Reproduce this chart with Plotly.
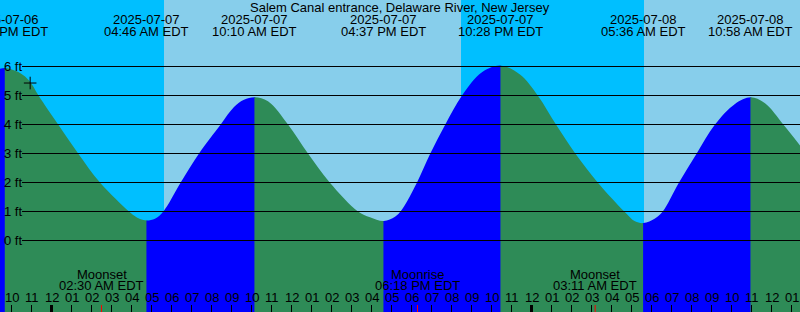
import plotly.graph_objects as go
from datetime import datetime, timedelta

# ---------------- data ----------------
title = "Salem Canal entrance, Delaware River, New Jersey"

# high / low tide extremes (time, feet)
ext_times = ["2025-07-06 21:41", "2025-07-07 04:46", "2025-07-07 10:10",
             "2025-07-07 16:37", "2025-07-07 22:28", "2025-07-08 05:36",
             "2025-07-08 10:58"]
ext_levels = [5.95, 0.69, 4.94, 0.67, 6.03, 0.60, 4.94]

# tide level
curve_times = ["2025-07-06 21:25:30", "2025-07-06 22:25:30", "2025-07-06 22:54",
               "2025-07-06 23:21", "2025-07-07 00:20", "2025-07-07 01:20",
               "2025-07-07 02:25:30", "2025-07-07 03:52:30", "2025-07-07 04:07:30",
               "2025-07-07 04:25:30",
               "2025-07-07 05:10:30", "2025-07-07 05:35:24", "2025-07-07 06:27:36",
               "2025-07-07 07:22:30", "2025-07-07 08:27:36", "2025-07-07 09:07:30",
               "2025-07-07 09:37:30",
               "2025-07-07 10:49:30", "2025-07-07 11:49:30", "2025-07-07 12:49:30",
               "2025-07-07 13:54:36", "2025-07-07 15:19:30", "2025-07-07 15:55:30",
               "2025-07-07 17:10:30", "2025-07-07 17:31:30", "2025-07-07 18:16:30",
               "2025-07-07 18:56:24", "2025-07-07 19:41:24", "2025-07-07 20:31:30",
               "2025-07-07 21:31:30",
               "2025-07-07 23:25:30", "2025-07-08 00:18:36", "2025-07-08 01:13:30",
               "2025-07-08 02:11:24", "2025-07-08 03:18:36", "2025-07-08 04:38:24",
               "2025-07-08 05:10:30",
               "2025-07-08 06:10:30", "2025-07-08 06:33:36", "2025-07-08 07:22:30",
               "2025-07-08 08:15:36", "2025-07-08 09:10:30", "2025-07-08 10:10:30",
               "2025-07-08 11:40:30", "2025-07-08 12:35:24", "2025-07-08 13:25:30"]
curve_levels = [5.92, 5.78, 5.50,
                5.00, 4.00, 3.00,
                2.00, 1.00, 0.86,
                0.74,
                0.75, 1.00, 2.00,
                3.00, 4.00, 4.60,
                4.85,
                4.80, 4.00, 3.00,
                2.00, 1.00, 0.80,
                0.82, 1.07, 2.00,
                3.00, 4.00, 5.00,
                5.80,
                5.72, 5.00, 4.00,
                3.00, 2.00, 1.00,
                0.66,
                0.76, 1.00, 2.00,
                3.00, 4.00, 4.71,
                4.73, 4.00, 3.28]

# daylight periods
day_starts = ["2025-07-07 05:37:30", "2025-07-08 05:37:30"]
day_ends = ["2025-07-07 20:28:30", "2025-07-08 13:25:30"]

# moon events
moon_times = ["2025-07-07 02:30", "2025-07-07 18:18", "2025-07-08 03:11"]
moon_events = ["Moonset", "Moonrise", "Moonset"]

# the "+" mark
mark_time = ["2025-07-06 22:56"]
mark_level = [5.43]

level_lines = [0, 1, 2, 3, 4, 5, 6]

x_start = "2025-07-06 21:25:30"
x_end = "2025-07-08 13:25:30"
y_min, y_max = -2.4655, 8.2931

# ---------------- style ----------------
W, H = 800, 312
FONT = "Liberation Sans, Arial, Helvetica, sans-serif"
FS = 13
NIGHT = "#00BFFF"
DAY = "#87CEEB"
FALL = "#2E8B57"
RISE = "#0000FF"


def p(s):
    fmt = "%Y-%m-%d %H:%M:%S" if s.count(":") == 2 else "%Y-%m-%d %H:%M"
    return datetime.strptime(s, fmt)


t_start, t_end = p(x_start), p(x_end)
span = (t_end - t_start).total_seconds()


def frac(t):
    return min(1.0, max(0.0, (t - t_start).total_seconds() / span))


pts = [(p(t), v) for t, v in zip(curve_times, curve_levels)]
pts += [(p(t), v) for t, v in zip(ext_times, ext_levels)]
pts.sort(key=lambda a: a[0])
all_x = [a[0] for a in pts]
all_y = [a[1] for a in pts]

# segment boundaries: range edges and extremes
bounds = [t_start] + [p(t) for t in ext_times] + [t_end]
lv_at = dict(zip(all_x, all_y))

fig = go.Figure()
layout_axes = {}
mark_t = [p(t) for t in mark_time]
for k in range(len(bounds) - 1):
    t0, t1 = bounds[k], bounds[k + 1]
    if t1 <= t0:
        continue
    ax_id = k + 2
    xname = f"x{ax_id}"
    # tiny overlap so adjacent subplots leave no seam
    pad = timedelta(seconds=span * 0.4 / W)
    r0, r1 = t0 - pad, t1 + pad
    layout_axes[f"xaxis{ax_id}"] = dict(
        type="date", domain=[frac(r0), frac(r1)],
        range=[max(r0, t_start), min(r1, t_end)],
        anchor="y", visible=False, fixedrange=True, showgrid=False, zeroline=False)
    color = RISE if lv_at[t1] > lv_at[t0] else FALL
    fig.add_trace(go.Scatter(x=[t_start, t_end], y=[y_min - 1, y_min - 1],
                             xaxis=xname, yaxis="y", mode="lines",
                             line=dict(width=0), showlegend=False,
                             hoverinfo="skip"))
    fig.add_trace(go.Scatter(x=all_x, y=all_y, xaxis=xname, yaxis="y",
                             mode="lines",
                             line=dict(width=0, color=color, shape="spline",
                                       smoothing=1.0),
                             fill="tonexty", fillcolor=color,
                             showlegend=False, hoverinfo="skip"))
    inside = [(t, v) for t, v in zip(mark_t, mark_level) if t0 <= t <= t1]
    if inside:
        fig.add_trace(go.Scatter(x=[a[0] for a in inside], y=[a[1] for a in inside],
                                 xaxis=xname, yaxis="y", mode="markers",
                                 marker=dict(symbol="cross-thin", size=9,
                                             line=dict(color="black", width=1)),
                                 showlegend=False, hoverinfo="skip"))

shapes = []
for a, b in zip(day_starts, day_ends):
    shapes.append(dict(type="rect", xref="x", yref="paper", x0=p(a), x1=p(b),
                       y0=0, y1=1, fillcolor=DAY, line=dict(width=0),
                       layer="below"))
for lv in level_lines:
    shapes.append(dict(type="line", xref="paper", yref="y", x0=22 / W, x1=1,
                       y0=lv, y1=lv, line=dict(color="black", width=1),
                       layer="above"))

# hourly ticks
tick_len = 7 / H
hour = t_start.replace(minute=0, second=0) + timedelta(hours=1)
ann = []
tf = dict(family=FONT, size=FS, color="black")
while hour <= t_end:
    w = 3 if hour.hour == 0 else 1
    shapes.append(dict(type="line", xref="x", yref="paper", x0=hour, x1=hour,
                       y0=0, y1=tick_len, line=dict(color="black", width=w),
                       layer="above"))
    ann.append(dict(text=hour.strftime("%I"), xref="x", yref="paper", x=hour,
                    y=1 - 297.5 / H, xanchor="center", yanchor="middle",
                    showarrow=False, font=tf))
    hour += timedelta(hours=1)
for m in moon_times:
    shapes.append(dict(type="line", xref="x", yref="paper", x0=p(m), x1=p(m),
                       y0=0, y1=tick_len, line=dict(color="red", width=1),
                       layer="above"))

ann.append(dict(text=title, xref="paper", yref="paper", x=0.5, y=1 - 7.2 / H,
                xanchor="center", yanchor="middle", showarrow=False, font=tf))
for t in ext_times:
    d = p(t)
    ann.append(dict(text=d.strftime("%Y-%m-%d"), xref="x", yref="paper", x=d,
                    y=1 - 19.5 / H, xanchor="center", yanchor="middle",
                    showarrow=False, font=tf))
    ann.append(dict(text=d.strftime("%I:%M %p EDT"), xref="x", yref="paper", x=d,
                    y=1 - 31.3 / H, xanchor="center", yanchor="middle",
                    showarrow=False, font=tf))
for t, name in zip(moon_times, moon_events):
    d = p(t)
    ann.append(dict(text=name, xref="x", yref="paper", x=d, y=1 - 274.2 / H,
                    xanchor="center", yanchor="middle", showarrow=False, font=tf))
    ann.append(dict(text=d.strftime("%I:%M %p EDT"), xref="x", yref="paper", x=d,
                    y=1 - 285 / H, xanchor="center", yanchor="middle",
                    showarrow=False, font=tf))
for lv in level_lines:
    ann.append(dict(text=f"{lv} ft", xref="paper", yref="y", x=0, y=lv,
                    xanchor="left", yanchor="middle", xshift=1.5,
                    showarrow=False, font=tf))

fig.update_layout(
    width=W, height=H, autosize=False,
    margin=dict(l=0, r=0, t=0, b=0, pad=0),
    plot_bgcolor="rgba(0,0,0,0)", paper_bgcolor=NIGHT,
    shapes=shapes, annotations=ann,
    xaxis=dict(type="date", range=[t_start, t_end], domain=[0, 1], visible=False,
               showgrid=False, zeroline=False, fixedrange=True),
    yaxis=dict(range=[y_min, y_max], domain=[0, 1], visible=False, showgrid=False,
               zeroline=False, fixedrange=True, anchor="x"),
    **layout_axes,
)

fig.write_html("out.html", config={"displayModeBar": False})
